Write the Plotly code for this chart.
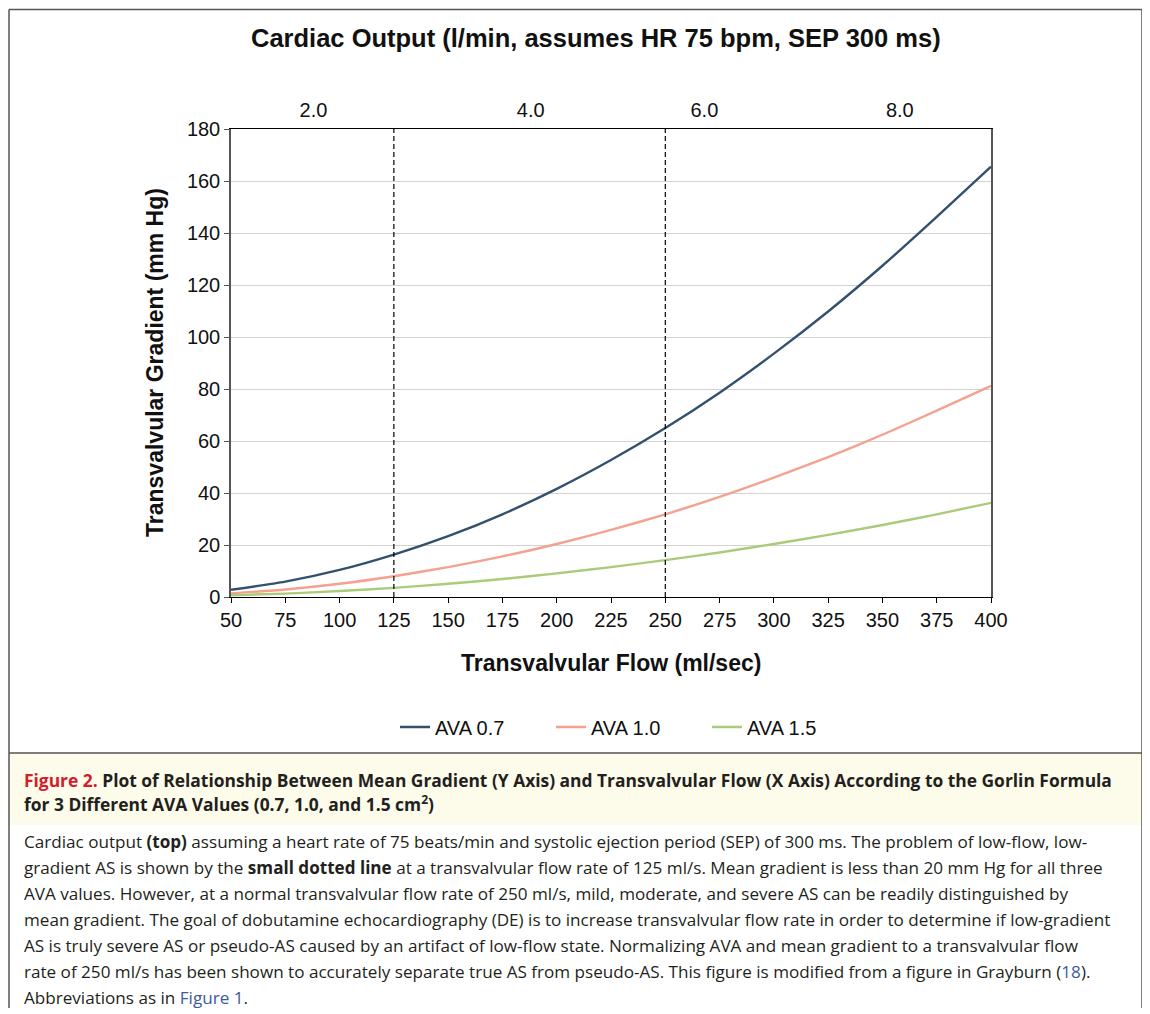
import plotly.graph_objects as go

# ---------------- data ----------------
flow = [50, 75, 100, 125, 150, 175, 200, 225, 250, 275, 300, 325, 350, 375, 400]
ava_07 = [2.8, 5.9, 10.4, 16.3, 23.4, 31.8, 41.6, 52.7, 65.0, 78.6, 93.6, 109.8, 127.4, 146.2, 165.5]
ava_10 = [1.4, 2.9, 5.1, 8.0, 11.5, 15.6, 20.4, 25.8, 31.8, 38.5, 45.9, 53.8, 62.4, 71.7, 81.2]
ava_15 = [0.7, 1.3, 2.3, 3.5, 5.1, 6.9, 9.1, 11.5, 14.2, 17.1, 20.4, 23.9, 27.7, 31.8, 36.2]
series_names = ["AVA 0.7", "AVA 1.0", "AVA 1.5"]
series_colors = ["#34506f", "#f4a18f", "#aacb7a"]

marker_flows = [125, 250]                       # dashed reference lines
x_ticks = [50, 75, 100, 125, 150, 175, 200, 225, 250, 275, 300, 325, 350, 375, 400]
y_ticks = [0, 20, 40, 60, 80, 100, 120, 140, 160, 180]
co_tick_pos = [88, 188, 268, 358]              # top axis (cardiac output) label positions in flow units
co_tick_text = ["2.0", "4.0", "6.0", "8.0"]

# ---------------- layout helpers (page pixel -> paper) ----------------
OFF = 8                      # body margin of the html page
W, H = 1140, 1000            # figure size
L, R, T, B = 231, 991, 129, 597   # plot area in page pixels


def px(x):
    return (x - L) / (R - L)


def py(y):
    return (B - y) / (B - T)


FONT = "Liberation Sans, Arial, Helvetica, sans-serif"
CAP_FONT = "Open Sans, Noto Sans, sans-serif"

fig = go.Figure()
for name, ys, col in zip(series_names, [ava_07, ava_10, ava_15], series_colors):
    fig.add_trace(go.Scatter(x=flow, y=ys, name=name, mode="lines",
                             line=dict(color=col, width=2.4, shape="spline", smoothing=0.6)))

# invisible trace to activate top axis
fig.add_trace(go.Scatter(x=[flow[0], flow[-1]], y=[None, None], xaxis="x2",
                         showlegend=False, hoverinfo="skip"))

shapes = []
for fx in marker_flows:
    shapes.append(dict(type="line", xref="x", yref="y", x0=fx, x1=fx, y0=0, y1=180,
                       line=dict(color="black", width=1.2, dash="5px,3px")))
# caption header band
shapes.append(dict(type="rect", xref="paper", yref="paper",
                   x0=px(9), x1=px(1142), y0=py(825), y1=py(753),
                   fillcolor="#fdfbea", line=dict(width=0), layer="below"))
# outer frame (left, right, top) and separator line
FRAME = dict(color="#555555", width=1.5)
shapes.append(dict(type="line", xref="paper", yref="paper",
                   x0=px(9), x1=px(9), y0=py(1010), y1=py(9.5), line=FRAME))
shapes.append(dict(type="line", xref="paper", yref="paper",
                   x0=px(1142), x1=px(1142), y0=py(1010), y1=py(9.5), line=FRAME))
shapes.append(dict(type="line", xref="paper", yref="paper",
                   x0=px(9), x1=px(1142), y0=py(9.5), y1=py(9.5), line=FRAME))
shapes.append(dict(type="line", xref="paper", yref="paper",
                   x0=px(9), x1=px(1142), y0=py(753), y1=py(753), line=FRAME))

ann = []
ann.append(dict(text="<b>Cardiac Output (l/min, assumes HR 75 bpm, SEP 300 ms)</b>",
                x=px(596), y=py(38), xref="paper", yref="paper", showarrow=False,
                font=dict(family=FONT, size=25.5, color="#111111"), xanchor="center", yanchor="middle"))
ann.append(dict(text="<b>Transvalvular Flow (ml/sec)</b>",
                x=px(611), y=py(663), xref="paper", yref="paper", showarrow=False,
                font=dict(family=FONT, size=23, color="#111111"), xanchor="center", yanchor="middle"))
ann.append(dict(text="<b>Transvalvular Gradient (mm Hg)</b>", textangle=-90,
                x=px(155), y=py(363), xref="paper", yref="paper", showarrow=False,
                font=dict(family=FONT, size=23, color="#111111"), xanchor="center", yanchor="middle"))

hdr = ["<b><span style='color:#d0202e'>Figure 2.</span> Plot of Relationship Between Mean Gradient (Y Axis) and Transvalvular Flow (X Axis) According to the Gorlin Formula</b>",
       "<b>for 3 Different AVA Values (0.7, 1.0, and 1.5 cm<sup>2</sup>)</b>"]
for t, yy in zip(hdr, [780, 803]):
    ann.append(dict(text=t, x=px(22), y=py(yy), xref="paper", yref="paper", showarrow=False,
                    font=dict(family=CAP_FONT, size=17.4, color="#231f20"), xanchor="left", yanchor="middle"))

LINK = "#3d5a9a"
body = [
    "Cardiac output <b>(top)</b> assuming a heart rate of 75 beats/min and systolic ejection period (SEP) of 300 ms. The problem of low-flow, low-",
    "gradient AS is shown by the <b>small dotted line</b> at a transvalvular flow rate of 125 ml/s. Mean gradient is less than 20 mm Hg for all three",
    "AVA values. However, at a normal transvalvular flow rate of 250 ml/s, mild, moderate, and severe AS can be readily distinguished by",
    "mean gradient. The goal of dobutamine echocardiography (DE) is to increase transvalvular flow rate in order to determine if low-gradient",
    "AS is truly severe AS or pseudo-AS caused by an artifact of low-flow state. Normalizing AVA and mean gradient to a transvalvular flow",
    f"rate of 250 ml/s has been shown to accurately separate true AS from pseudo-AS. This figure is modified from a figure in Grayburn (<span style='color:{LINK}'>18</span>).",
    f"Abbreviations as in <span style='color:{LINK}'>Figure 1</span>.",
]
for i, t in enumerate(body):
    ann.append(dict(text=t, x=px(22), y=py(841 + 26 * i), xref="paper", yref="paper", showarrow=False,
                    font=dict(family=CAP_FONT, size=17.1, color="#231f20"), xanchor="left", yanchor="middle"))

fig.update_layout(
    width=W, height=H,
    margin=dict(l=L - OFF, r=W - (R - OFF), t=T - OFF, b=H - (B - OFF), pad=0),
    paper_bgcolor="white", plot_bgcolor="white",
    font=dict(family=FONT, size=20, color="#111111"),
    showlegend=True,
    legend=dict(orientation="h", x=px(395), y=py(727), xanchor="left", yanchor="middle",
                font=dict(family=FONT, size=20, color="#111111"),
                entrywidth=111, entrywidthmode="pixels", bgcolor="rgba(0,0,0,0)"),
    xaxis=dict(range=[50, 400], tickvals=x_ticks, showgrid=False, zeroline=False,
               showline=True, linecolor="black", linewidth=1.3, mirror=True,
               ticks="outside", ticklen=5, tickcolor="black",
               tickfont=dict(family=FONT, size=20, color="#111111")),
    xaxis2=dict(range=[50, 400], overlaying="x", side="top", tickvals=co_tick_pos,
                ticktext=co_tick_text, showgrid=False, zeroline=False, showline=False,
                ticks="outside", ticklen=3, tickcolor="rgba(0,0,0,0)",
                tickfont=dict(family=FONT, size=20, color="#111111")),
    yaxis=dict(range=[0, 180], tickvals=y_ticks, showgrid=True, gridcolor="#d3d3d3", gridwidth=1,
               zeroline=False, showline=True, linecolor="#555555", linewidth=1.5, mirror=True,
               ticks="outside", ticklen=5, tickcolor="#555555",
               tickfont=dict(family=FONT, size=20, color="#111111")),
    shapes=shapes, annotations=ann,
)

fig.write_html("out.html")
